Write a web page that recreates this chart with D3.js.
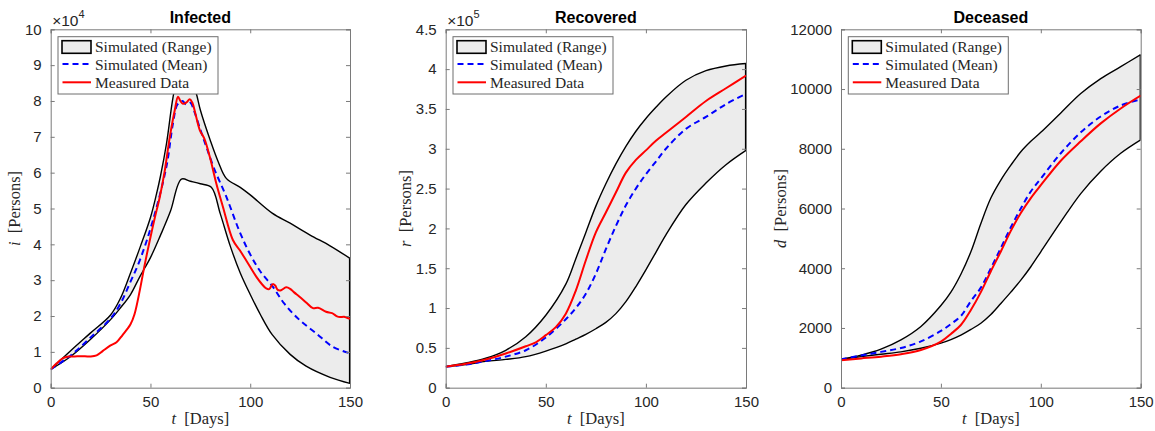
<!DOCTYPE html>
<html><head><meta charset="utf-8">
<script src="https://cdn.jsdelivr.net/npm/d3@7"></script>
<style>body{margin:0;background:#fff} svg{display:block}</style>
</head><body><svg id="c" width="1155" height="431"></svg>
<script>
// ---------- data ----------
const xTicks = [0, 50, 100, 150];
const legendLabels = ["Simulated (Range)", "Simulated (Mean)", "Measured Data"];
const titles = ["Infected", "Recovered", "Deceased"];
const yVars = ["i", "r", "d"];

// Infected (persons)
const infUpperT = [0,10,20,30,35,40,45,50,53,55,58,61.3,64,66,70,73,75,80,84,88,95,100,111,120,130,140,150];
const infUpper  = [5100,10300,15300,20300,25000,32000,39500,47500,54000,59000,68000,81000,88000,90000,86500,82000,77500,69000,63000,58400,55900,53800,48700,45900,42600,39600,36100];
const infLowerT = [0,10,20,30,35,40,44.7,50,55,60,65.5,70,75,80.5,85,90,95,100,105,111,120,128,140,150];
const infLower  = [5100,8700,13500,19000,22300,26000,31000,36300,42500,49200,58200,57600,56900,55900,48500,39500,32000,26000,20500,14800,9300,6000,2900,1200];
const infMeanT  = [0,10,20,30,35,40,44.7,51.3,58,61.3,63.5,66,68,70,72,75,78,82,88,94.7,99.7,105,111.3,117,124.7,133,141.4,150];
const infMean   = [5100,9000,14000,19300,23500,29600,35600,46800,61700,73800,79000,80000,79000,79500,77000,72000,67200,61000,53300,43500,37500,32500,28200,23500,18900,15200,11400,9600];
const infDataT  = [0,3,6,9,12,15,20,23,26,30,33,36,40,42,44.7,47,49.7,52,54.7,57,59.7,62.2,63.8,65,66.3,68,69.7,71,72.5,74.7,77,79.7,83,86.3,91.3,94.7,98,103,106,108,109.5,111.3,112.5,113.8,115.5,118,120,122,124.7,128,131.4,134,138,141,143.5,145,147,148.5,150];
const infData   = [5100,6800,8200,8700,8700,8800,8700,9000,10200,11800,12700,14700,17700,20500,27300,34000,41200,47000,53300,60000,70000,77500,81200,80000,79200,79600,80500,79500,76500,71900,69500,64500,57000,50500,41200,38400,35500,31000,28800,27700,27500,28900,28500,27300,27200,28000,27600,26600,25400,23800,22200,22300,21200,20800,19900,19700,19800,19500,19200];

// Recovered (persons)
const recT      = [0,10,20,30,40,50,60,65,70,75,80,85,90,95,100,105,110,120,130,140,150];
const recUpper  = [26400,31000,37000,47000,64000,91000,130000,162000,195000,228000,256000,281000,303000,322000,338000,352000,365000,386000,398000,404000,407000];
const recLower  = [26400,29000,33000,35500,39000,46000,55000,61000,67000,74000,82000,93000,108000,127000,148000,170000,192000,230000,257000,280000,298000];
const recMean   = [26400,29000,33500,39000,47000,63000,86000,100000,118000,143000,174000,203000,229000,250000,268000,284000,300000,325000,340000,356000,369000];
const recDataT  = [0,10,20,30,40,45,50,55,60,65,70,75,80,85,90,95,100,105,110,120,130,140,150];
const recData   = [26400,30000,35500,43000,52000,57000,66000,76000,93000,122000,160000,195000,220000,245000,270000,286000,298000,310000,320000,340000,360000,376000,392000];

// Deceased (persons)
const decT      = [0,10,20,30,40,50,55,60,65,70,75,80,85,90,95,100,110,120,130,140,150];
const decUpper  = [950,1090,1290,1600,2050,2750,3200,3800,4550,5500,6350,6950,7450,7900,8250,8550,9200,9850,10350,10750,11150];
const decLower  = [950,1040,1120,1200,1320,1490,1610,1760,1950,2160,2450,2820,3200,3600,4050,4550,5550,6500,7250,7850,8300];
const decMean   = [950,1080,1200,1330,1550,1900,2130,2400,2900,3350,4000,4680,5370,6000,6570,7000,7850,8550,9080,9450,9650];
const decData   = [920,980,1040,1120,1260,1540,1800,2100,2600,3200,3900,4560,5250,5850,6350,6780,7600,8250,8850,9350,9780];

// ---------- drawing ----------
const svg = d3.select("#c");
const TOP = 29.3, BOT = 387.7;
const AXIS = "#7a7a7a", TXT = "#262626";
const SANS = "'Liberation Sans', Arial, Helvetica, sans-serif";
const SERIF = "'Liberation Serif', 'Times New Roman', serif";

function drawPanel(o, idx) {
  const g = svg.append("g");
  const x = d3.scaleLinear().domain([0, 150]).range([o.left, o.right]);
  const y = d3.scaleLinear().domain([0, o.ymax]).range([BOT, TOP]);
  const pts = (T, V) => T.map((t, i) => [x(t), y(V[i])]);
  const curve = d3.curveCatmullRom.alpha(0.5);
  const line = d3.line().curve(curve);
  const area = d3.area().curve(curve).x(d => d[0]).y1(d => d[1]).y0(y(0));

  const cid = "clip" + idx;
  svg.append("clipPath").attr("id", cid).append("rect")
    .attr("x", o.left).attr("y", TOP).attr("width", o.right - o.left).attr("height", BOT - TOP);
  const p = g.append("g").attr("clip-path", `url(#${cid})`);

  const up = pts(o.upT, o.up), lo = pts(o.loT, o.lo);
  p.append("path").attr("d", area(up)).attr("fill", "#ececec");
  p.append("path").attr("d", area(lo)).attr("fill", "#fff");
  p.append("path").attr("d", line(up)).attr("fill", "none").attr("stroke", "#000").attr("stroke-width", 1.4);
  p.append("path").attr("d", line(lo)).attr("fill", "none").attr("stroke", "#000").attr("stroke-width", 1.4);
  p.append("line")
    .attr("x1", x(150)).attr("x2", x(150))
    .attr("y1", y(o.lo[o.lo.length - 1])).attr("y2", y(o.up[o.up.length - 1]))
    .attr("stroke", "#000").attr("stroke-width", 2.2);
  p.append("path").attr("d", line(pts(o.meT, o.me))).attr("fill", "none")
    .attr("stroke", "#0000ff").attr("stroke-width", 2).attr("stroke-dasharray", "6,4");
  p.append("path").attr("d", line(pts(o.daT, o.da))).attr("fill", "none")
    .attr("stroke", "#ff0000").attr("stroke-width", 2);

  // axes (box with inward ticks)
  const axB = d3.axisBottom(x).tickValues(xTicks).tickSize(-4).tickPadding(9).tickFormat(d3.format("d"));
  const axT = d3.axisTop(x).tickValues(xTicks).tickSize(-4).tickFormat("");
  const axL = d3.axisLeft(y).tickValues(o.yTicks).tickSize(-4).tickPadding(9).tickFormat(o.fmt);
  const axR = d3.axisRight(y).tickValues(o.yTicks).tickSize(-4).tickFormat("");
  const style = a => {
    a.selectAll("path.domain").attr("stroke", AXIS).attr("stroke-width", 1);
    a.selectAll(".tick line").attr("stroke", AXIS).attr("stroke-width", 1);
    a.selectAll(".tick text").attr("fill", TXT).style("font-family", SANS).style("font-size", "15px");
  };
  g.append("g").attr("transform", `translate(0,${BOT})`).call(axB).call(style);
  g.append("g").attr("transform", `translate(0,${TOP})`).call(axT).call(style);
  g.append("g").attr("transform", `translate(${o.left},0)`).call(axL).call(style);
  g.append("g").attr("transform", `translate(${o.right},0)`).call(axR).call(style);

  // exponent
  if (o.exp) {
    const t = g.append("text").attr("x", o.left + 1.5).attr("y", 25.5).attr("fill", TXT)
      .style("font-family", SANS).style("font-size", "15.5px");
    t.append("tspan").text("\u00d710");
    t.append("tspan").attr("dy", -7.5).style("font-size", "11px").text(o.exp);
  }

  // title
  g.append("text").attr("x", (o.left + o.right) / 2).attr("y", 22.5).attr("text-anchor", "middle")
    .attr("fill", "#000").style("font-family", SANS).style("font-weight", "bold").style("font-size", "16px")
    .text(titles[idx]);

  // x label
  const xl = g.append("text").attr("x", (o.left + o.right) / 2).attr("y", 424).attr("text-anchor", "middle")
    .attr("fill", TXT).style("font-family", SERIF).style("font-size", "16.5px");
  xl.append("tspan").style("font-style", "italic").text("t");
  xl.append("tspan").text("\u2002[Days]");

  // y label
  const yl = g.append("text").attr("transform", `translate(${o.ylx},${(TOP + BOT) / 2}) rotate(-90)`)
    .attr("text-anchor", "middle").attr("fill", TXT).style("font-family", SERIF).style("font-size", "16.5px");
  yl.append("tspan").style("font-style", "italic").text(yVars[idx]);
  yl.append("tspan").text("\u2002[Persons]");

  // legend
  const lx = o.left + 7.3, ly = TOP + 7.4;
  const L = g.append("g");
  L.append("rect").attr("x", lx).attr("y", ly).attr("width", 160).attr("height", 57.3)
    .attr("fill", "#fff").attr("stroke", "#6e6e6e").attr("stroke-width", 1);
  L.append("rect").attr("x", lx + 4).attr("y", ly + 4).attr("width", 29).attr("height", 12.6)
    .attr("fill", "#ececec").attr("stroke", "#000").attr("stroke-width", 1.6);
  L.append("line").attr("x1", lx + 4.5).attr("x2", lx + 33).attr("y1", ly + 27.3).attr("y2", ly + 27.3)
    .attr("stroke", "#0000ff").attr("stroke-width", 2).attr("stroke-dasharray", "6,4");
  L.append("line").attr("x1", lx + 4.5).attr("x2", lx + 33).attr("y1", ly + 45.6).attr("y2", ly + 45.6)
    .attr("stroke", "#ff0000").attr("stroke-width", 2);
  legendLabels.forEach((s, i) => {
    L.append("text").attr("x", lx + 37).attr("y", ly + 15 + i * 18.2).attr("fill", TXT)
      .style("font-family", SERIF).style("font-size", "15.5px").text(s);
  });
}

drawPanel({
  left: 50.7, right: 350, ymax: 100000, ylx: 20, exp: "4",
  yTicks: d3.range(0, 100001, 10000), fmt: d => d3.format("d")(d / 10000),
  upT: infUpperT, up: infUpper, loT: infLowerT, lo: infLower,
  meT: infMeanT, me: infMean, daT: infDataT, da: infData
}, 0);
drawPanel({
  left: 445.7, right: 746, ymax: 450000, ylx: 411, exp: "5",
  yTicks: d3.range(0, 450001, 50000), fmt: d => d3.format("~g")(d / 100000),
  upT: recT, up: recUpper, loT: recT, lo: recLower,
  meT: recT, me: recMean, daT: recDataT, da: recData
}, 1);
drawPanel({
  left: 841, right: 1140.7, ymax: 12000, ylx: 786, exp: null,
  yTicks: d3.range(0, 12001, 2000), fmt: d3.format("d"),
  upT: decT, up: decUpper, loT: decT, lo: decLower,
  meT: decT, me: decMean, daT: decT, da: decData
}, 2);
</script></body></html>
